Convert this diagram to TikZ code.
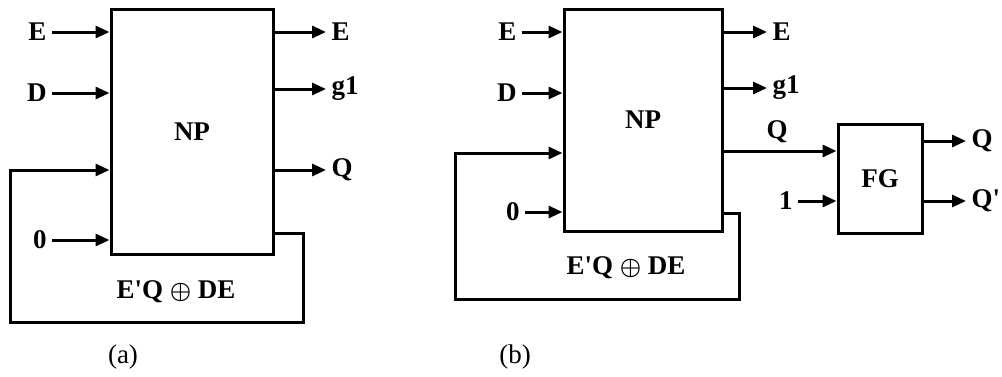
\documentclass[tikz,border=0pt]{standalone}
\usepackage{fontspec}
\setmainfont{Liberation Serif}
\usepackage{tikz}
\usetikzlibrary{arrows.meta, positioning}

\begin{document}
\begin{tikzpicture}[
        x=0.5pt, y=-0.5pt, line width=1.5pt,
        blk/.style={rectangle, draw, line width=1.5pt, inner sep=0pt, font=\bfseries\fontsize{13.5}{15}\selectfont},
        lbl/.style={inner sep=2pt, font=\bfseries\fontsize{13.5}{15}\selectfont},
        subcap/.style={inner sep=0pt, font=\fontsize{13.5}{15}\selectfont},
        arr/.style={-{Triangle[length=7pt,width=6pt]}}
    ]
        \useasboundingbox (0,0) rectangle (1002,376);

        % (a)
        \node[blk, minimum width=81pt, minimum height=122.5pt] (NPa) at (192,131.5) {NP};
        \node[lbl, anchor=east] (aiE) at (52,32) {E};
        \node[lbl, anchor=east] (aiD) at (52,93) {D};
        \node[lbl, anchor=east] (ai0) at (52,240) {0};
        \node[lbl, anchor=west] (aoE) at (326,32) {E};
        \node[lbl, anchor=west] (aog) at (326,89) {g1};
        \node[lbl, anchor=west] (aoQ) at (326,170) {Q};
        \node[lbl] (afb) at (176,292) {E\textquotesingle Q {\boldmath\large$\oplus$} DE};
        \coordinate (fa1) at (303,233);
        \coordinate (fa2) at (10,322);
        \coordinate (fa3) at (10,170);
        \draw[arr] (aiE.east) -- (NPa.west |- aiE);
        \draw[arr] (aiD.east) -- (NPa.west |- aiD);
        \draw[arr] (ai0.east) -- (NPa.west |- ai0);
        \draw[arr] (NPa.east |- aoE) -- (aoE.west);
        \draw[arr] (NPa.east |- aog) -- (aog.west);
        \draw[arr] (NPa.east |- aoQ) -- (aoQ.west);
        \draw[arr] (NPa.east |- fa1) -- (fa1) |- (fa2) -- (fa3) -- (NPa.west |- fa3);
        \node[subcap] (capa) at (123,357) {(a)};

        % (b)
        \node[blk, minimum width=79pt, minimum height=111pt] (NPb) at (643,120) {NP};
        \node[blk, minimum width=42pt, minimum height=54.5pt] (FG) at (880,178.5) {FG};
        \node[lbl, anchor=east] (biE) at (522,32) {E};
        \node[lbl, anchor=east] (biD) at (522,93) {D};
        \node[lbl, anchor=east] (bi0) at (525,212) {0};
        \node[lbl, anchor=east] (bi1) at (798,201) {1};
        \node[lbl, anchor=west] (boE) at (767,32) {E};
        \node[lbl, anchor=west] (bog) at (767,88) {g1};
        \node[lbl] (bQl) at (777,132) {Q};
        \node[lbl, anchor=west] (boQ) at (966,141) {Q};
        \node[lbl, anchor=west] (boQn) at (966,201) {Q\textquotesingle};
        \node[lbl] (bfb) at (626,268) {E\textquotesingle Q {\boldmath\large$\oplus$} DE};
        \coordinate (bq) at (0,151);
        \coordinate (fb1) at (739,213);
        \coordinate (fb2) at (455,299);
        \coordinate (fb3) at (455,153);
        \draw[arr] (biE.east) -- (NPb.west |- biE);
        \draw[arr] (biD.east) -- (NPb.west |- biD);
        \draw[arr] (bi0.east) -- (NPb.west |- bi0);
        \draw[arr] (NPb.east |- boE) -- (boE.west);
        \draw[arr] (NPb.east |- bog) -- (bog.west);
        \draw[arr] (NPb.east |- bq) -- (FG.west |- bq);
        \draw[arr] (bi1.east) -- (FG.west |- bi1);
        \draw[arr] (FG.east |- boQ) -- (boQ.west);
        \draw[arr] (FG.east |- boQn) -- (boQn.west);
        \draw[arr] (NPb.east |- fb1) -- (fb1) |- (fb2) -- (fb3) -- (NPb.west |- fb3);
        \node[subcap] (capb) at (515,357) {(b)};
    \end{tikzpicture}
\end{document}
